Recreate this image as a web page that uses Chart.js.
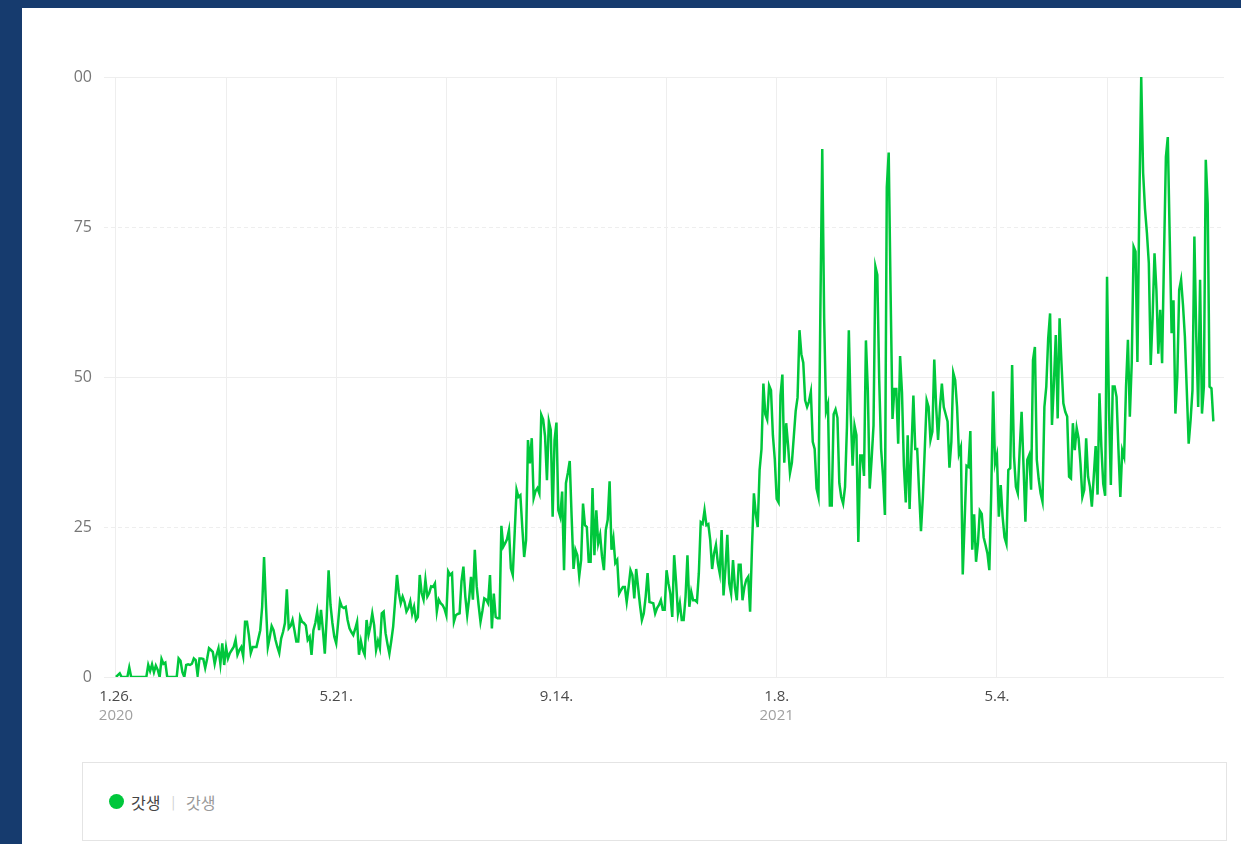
<!DOCTYPE html>
<html lang="ko">
<head>
<meta charset="utf-8">
<title>갓생</title>
<script src="https://cdn.jsdelivr.net/npm/chart.js@4.4.1/dist/chart.umd.min.js"></script>
<style>
    html, body { margin: 0; padding: 0; }
    body {
        width: 1241px;
        height: 844px;
        background: #163b6e;
        position: relative;
        overflow: hidden;
        font-family: 'Open Sans', 'Noto Sans CJK KR', sans-serif;
    }
    .panel {
        position: absolute;
        left: 22px; top: 8px;
        width: 1219px; height: 836px;
        background: #fff;
    }
    #trendChart {
        position: absolute;
        left: 72px; top: 0;
    }
    .legend {
        position: absolute;
        left: 82px; top: 762px;
        width: 1145px; height: 79px;
        border: 1px solid #e4e4e4;
        background: #fff;
        display: flex;
        align-items: center;
        padding-left: 26px;
        box-sizing: border-box;
        font-family: 'Noto Sans CJK KR', sans-serif;
        font-size: 16px;
    }
    .legend .dot {
        width: 15px; height: 15px;
        border-radius: 50%;
        background: #00c73c;
        margin-right: 7px;
    }
    .legend .name { color: #444; }
    .legend .sep { color: #ccc; margin: 0 11px 0 11px; font-size: 13px; }
    .legend .sub { color: #999; }
</style>
</head>
<body>
<div class="panel"></div>
<canvas id="trendChart" width="1169" height="760"></canvas>
<div class="legend">
    <span class="dot"></span><span class="name">갓생</span><span class="sep">|</span><span class="sub">갓생</span>
</div>

<script>
// 검색어 트렌드 - 일간, 2020.1.26. 부터
var seriesName = '갓생';

// 2020.1.26. ~ 2020.12.31.
var values2020 = [
    0, 0.3, 0.6, 0, 0, 0, 0, 1.6, 0, 0,
    0, 0, 0, 0, 0, 0, 0, 2.0, 1.0, 2.1,
    0.8, 1.9, 1.2, 0, 3.0, 2.2, 2.4, 0, 0, 0,
    0, 0, 0, 3.1, 2.7, 0.8, 0, 2.0, 2.1, 2.0,
    2.2, 3.1, 2.8, 0.3, 3.1, 3.1, 3.0, 1.5, 3.0, 4.8,
    4.5, 4.2, 2.2, 3.7, 4.8, 2.2, 5.6, 2.0, 4.9, 3.1,
    4.0, 4.5, 5.0, 6.2, 3.7, 4.5, 5.0, 3.5, 9.2, 9.2,
    7.0, 4.0, 5.0, 5.0, 5.0, 6.4, 7.8, 11.7, 20.0, 12.0,
    5.0, 6.6, 8.5, 7.8, 6.2, 5.0, 4.0, 6.4, 7.5, 9.0,
    14.6, 8.1, 8.5, 9.5, 7.8, 5.9, 5.9, 10.0, 9.2, 9.0,
    8.6, 6.2, 6.7, 3.7, 7.8, 9.0, 10.9, 7.8, 11.2, 7.8,
    3.9, 10.0, 17.8, 12.0, 9.0, 6.7, 5.6, 9.0, 12.6, 11.7,
    11.5, 11.7, 9.5, 8.1, 7.5, 7.0, 8.0, 9.2, 3.7, 6.0,
    4.5, 3.7, 9.5, 7.0, 8.5, 10.6, 8.6, 4.5, 6.0, 4.8,
    10.6, 10.9, 7.3, 5.5, 3.9, 6.0, 8.4, 12.5, 17.0, 14.0,
    12.3, 13.4, 12.5, 10.9, 11.5, 12.6, 10.5, 11.7, 9.5, 10.0,
    17.0, 14.0, 12.9, 16.2, 13.4, 14.0, 15.1, 15.0, 15.6, 10.9,
    12.9, 12.3, 12.0, 11.4, 10.3, 17.6, 17.0, 17.3, 9.2, 10.3,
    10.5, 10.6, 16.0, 18.4, 13.4, 10.3, 13.0, 16.7, 12.9, 21.2,
    15.1, 12.0, 9.2, 11.0, 13.1, 12.9, 12.3, 17.0, 8.1, 13.9,
    10.0, 9.8, 9.8, 25.2, 21.7, 22.3, 23.0, 24.5, 18.1, 17.0,
    24.0, 31.2, 30.0, 30.3, 25.0, 20.0, 22.8, 39.5, 35.6, 39.8,
    29.8, 31.0, 31.5, 30.6, 43.7, 42.9, 40.1, 32.8, 42.6, 41.2,
    26.7, 39.5, 42.4, 27.8, 26.7, 30.9, 17.8, 32.3, 34.0, 36.0,
    26.7, 18.0, 21.2, 20.3, 16.8, 19.5, 28.9, 25.3, 25.0, 19.2,
    19.2, 31.5, 20.3, 27.8, 22.3, 23.7, 20.1, 17.8, 24.5, 26.2,
    32.6, 21.2, 23.1, 19.0, 19.5, 13.9, 14.5, 15.0, 15.0, 12.5,
    15.0, 17.8, 17.0, 13.1, 18.0, 15.0, 12.0, 9.5, 10.6, 13.4,
    17.3, 12.5, 12.4, 12.3, 10.6, 11.5, 12.0, 12.8, 11.2, 11.2,
    17.8, 15.6, 13.9, 10.0, 20.3, 15.9, 10.6, 12.3, 9.5, 9.5,
    13.4, 20.3, 11.7, 14.2, 12.8, 12.8, 12.5, 17.3, 25.8, 25.5,
    27.8, 25.3, 25.5, 22.8, 18.0, 20.6, 22.0, 19.0, 17.3, 24.5,
    13.6, 18.0, 23.7, 15.6, 13.9, 19.5, 15.0, 12.8, 18.7, 18.7,
    12.8, 15.0, 16.2, 16.7, 10.9, 21.7, 30.6, 27.2, 25.0, 34.5,
    38.0
];

// 2021.1.1. ~ 2021.8.27.
var values2021 = [
    48.9, 43.8, 42.9, 48.6, 47.8, 40.3, 36.3, 29.7, 29.1,
    46.9, 50.4, 35.7, 42.3, 38.6, 34.0, 35.7, 40.0, 44.3, 46.6,
    57.8, 53.8, 52.4, 46.1, 45.0, 45.9, 47.5, 39.2, 38.0, 31.4,
    30.0, 60.8, 88.0, 59.8, 44.3, 45.5, 28.6, 28.6, 43.8, 44.6,
    43.2, 32.3, 30.0, 28.9, 31.7, 41.6, 57.8, 43.8, 35.2, 41.9,
    40.3, 22.5, 36.9, 36.9, 33.5, 56.1, 47.8, 31.4, 36.3, 41.9,
    68.4, 67.0, 49.5, 38.0, 33.5, 27.0, 81.6, 87.4, 64.0, 43.0,
    48.0, 48.0, 38.9, 53.5, 47.4, 35.2, 29.1, 40.3, 28.0, 38.0,
    46.9, 38.0, 38.0, 31.0, 24.3, 30.0, 38.0, 46.1, 45.0, 39.5,
    40.9, 52.9, 45.0, 39.5, 45.0, 48.9, 45.0, 43.8, 42.6, 34.9,
    39.2, 50.7, 49.5, 45.0, 37.2, 38.3, 17.1, 26.0, 35.2, 35.0,
    41.0, 21.2, 27.1, 19.2, 22.3, 27.7, 27.2, 23.3, 22.0, 20.6,
    17.8, 30.6, 47.6, 35.6, 37.0, 26.7, 32.0, 26.7, 23.3, 22.2,
    34.5, 34.8, 52.0, 36.7, 31.7, 30.6, 38.0, 44.2, 35.3, 25.9,
    36.2, 37.0, 31.2, 52.8, 55.0, 36.2, 33.0, 30.6, 29.2, 45.0,
    48.4, 56.4, 60.6, 42.0, 48.9, 57.0, 43.1, 59.8, 52.3, 45.6,
    44.2, 43.4, 33.4, 33.1, 42.3, 37.8, 41.5, 39.8, 35.6, 30.0,
    31.2, 39.8, 33.4, 31.7, 28.4, 33.4, 38.5, 30.4, 47.3, 38.4,
    32.2, 30.2, 66.7, 45.0, 32.0, 48.4, 48.4, 46.7, 38.0, 30.0,
    37.8, 36.7, 48.4, 56.2, 43.4, 52.3, 71.7, 70.9, 52.5, 78.9,
    100, 84.0, 78.0, 74.0, 69.0, 52.0, 60.0, 70.6, 64.5, 53.9,
    61.2, 52.3, 70.1, 86.7, 90.0, 73.4, 57.3, 62.8, 43.9, 50.0,
    64.5, 66.2, 62.0, 56.7, 47.8, 38.9, 42.8, 47.8, 73.4, 56.7,
    45.0, 66.2, 43.9, 48.4, 86.2, 78.9, 48.4, 48.1, 42.6
];

// x축 라벨 (시작일로부터 경과 일수)
var tickDays = [0, 116, 232, 348, 464];
var tickLabels = ['1.26.', '5.21.', '9.14.', '1.8.', '5.4.'];
var tickYears = ['2020', '', '', '2021', ''];
var gridStep = 58;

// y축
var yTicks = [0, 25, 50, 75, 100];

document.addEventListener('DOMContentLoaded', function() {
    var allValues = values2020.concat(values2021);
    var points = allValues.map(function(v, i) {
        return { x: i, y: v };
    });

    var gridDays = [];
    for (var d = 0; d <= tickDays[tickDays.length - 1] + gridStep; d += gridStep) {
        gridDays.push(d);
    }

    // 연도 표시 (두번째 줄, 연한 회색)
    var yearLabels = {
        id: 'yearLabels',
        afterDraw: function(chart) {
            var ctx = chart.ctx;
            var xScale = chart.scales.x;
            ctx.save();
            ctx.font = "15px 'Open Sans', sans-serif";
            ctx.fillStyle = '#a0a0a0';
            ctx.textAlign = 'center';
            ctx.textBaseline = 'middle';
            tickDays.forEach(function(day, i) {
                if (tickYears[i]) {
                    ctx.fillText(tickYears[i], xScale.getPixelForValue(day), xScale.top + 39);
                }
            });
            ctx.restore();
        }
    };

    var ctx = document.getElementById('trendChart').getContext('2d');
    new Chart(ctx, {
        type: 'line',
        data: {
            datasets: [{
                label: seriesName,
                data: points,
                borderColor: '#00c73c',
                borderWidth: 2.5,
                pointRadius: 0,
                pointHoverRadius: 0,
                tension: 0,
                fill: false
            }]
        },
        options: {
            responsive: false,
            animation: false,
            layout: {
                padding: { top: 77, right: 17, left: 0, bottom: 0 }
            },
            plugins: {
                legend: { display: false },
                tooltip: { enabled: false }
            },
            scales: {
                x: {
                    type: 'linear',
                    min: -6.3,
                    max: 583.6,
                    afterBuildTicks: function(scale) {
                        scale.ticks = gridDays.map(function(d) { return { value: d }; });
                    },
                    afterFit: function(scale) {
                        scale.height = 83;
                    },
                    grid: {
                        color: '#eeeeee',
                        lineWidth: 1,
                        drawTicks: false
                    },
                    border: { display: false },
                    ticks: {
                        autoSkip: false,
                        maxRotation: 0,
                        padding: 11,
                        color: '#4a4a4a',
                        font: { family: "'Open Sans', sans-serif", size: 15 },
                        callback: function(value) {
                            var idx = tickDays.indexOf(value);
                            return idx >= 0 ? tickLabels[idx] : '';
                        }
                    }
                },
                y: {
                    min: 0,
                    max: 100,
                    afterBuildTicks: function(scale) {
                        scale.ticks = yTicks.map(function(v) { return { value: v }; });
                    },
                    afterFit: function(scale) {
                        scale.width = 32;
                    },
                    grid: {
                        color: '#eeeeee',
                        lineWidth: 1,
                        drawTicks: false
                    },
                    border: {
                        display: false,
                        dash: function(context) {
                            var v = context.tick ? context.tick.value : 0;
                            return (v === 25 || v === 75) ? [4, 3] : [];
                        }
                    },
                    ticks: {
                        padding: 12,
                        color: '#777777',
                        font: { family: "'Open Sans', sans-serif", size: 16 }
                    }
                }
            }
        },
        plugins: [yearLabels]
    });
});
</script>
</body>
</html>
